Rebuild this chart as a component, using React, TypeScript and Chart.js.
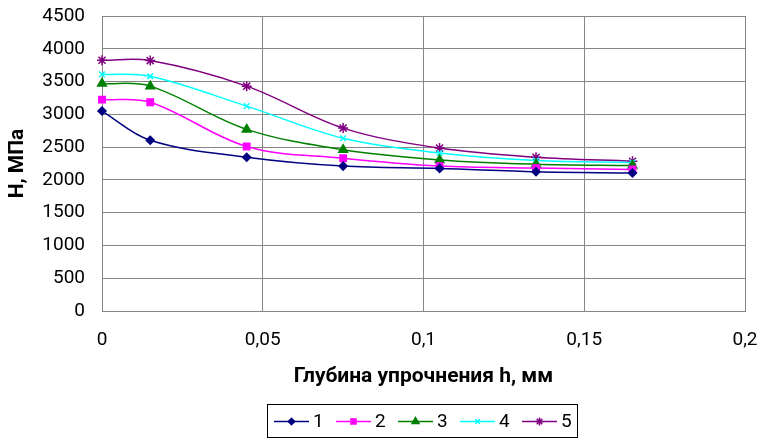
import React, { useEffect, useRef } from "react";
import { Chart, registerables } from "chart.js";
import { drawPoint } from "chart.js/helpers";

Chart.register(...registerables);

// Depth of hardening h, mm
const depths = [0, 0.015, 0.045, 0.075, 0.105, 0.135, 0.165];
// Hardness H, MPa
const series1 = [3050, 2605, 2345, 2210, 2175, 2125, 2105];
const series2 = [3225, 3185, 2510, 2330, 2210, 2180, 2160];
const series3 = [3470, 3430, 2770, 2460, 2305, 2240, 2220];
const series4 = [3610, 3580, 3125, 2635, 2410, 2295, 2265];
const series5 = [3825, 3820, 3430, 2790, 2485, 2345, 2285];
const seriesLabels = ["1", "2", "3", "4", "5"];
const xTicks = [0, 0.05, 0.1, 0.15, 0.2];
const yTicks = [0, 500, 1000, 1500, 2000, 2500, 3000, 3500, 4000, 4500];
const xTitle = "Глубина упрочнения h, мм";
const yTitle = "H, МПа";

const colors = ["#000080", "#FF00FF", "#008000", "#00FFFF", "#800080"];
const pointStyles = ["rectRot", "rect", "triangle", "crossRot", "star"];
const pointRadii = [4, 4.5, 5, 4, 5];

const FONT = "Roboto, 'Noto Sans', Arial, sans-serif";

const legendPlugin = {
  id: "excelLegend",
  afterDraw(chart: any) {
    const ctx = chart.ctx as CanvasRenderingContext2D;
    const area = chart.chartArea;
    const itemW = 62;
    const lineLen = 35;
    const boxW = 310;
    const boxH = 33;
    const cx = (area.left + area.right) / 2;
    const x0 = Math.floor(cx - boxW / 2) - 1;
    const y0 = chart.height - 34;
    ctx.save();
    ctx.strokeStyle = "#000";
    ctx.lineWidth = 1;
    ctx.strokeRect(x0 + 0.5, y0 + 0.5, boxW, boxH);
    chart.data.datasets.forEach((ds: any, i: number) => {
      const lx = x0 + 7 + i * itemW;
      const cy = y0 + boxH / 2 + 1;
      ctx.strokeStyle = ds.borderColor;
      ctx.lineWidth = 1.5;
      ctx.beginPath();
      ctx.moveTo(lx, cy);
      ctx.lineTo(lx + lineLen, cy);
      ctx.stroke();
      ctx.fillStyle = ds.pointBackgroundColor;
      ctx.strokeStyle = ds.pointBorderColor;
      ctx.lineWidth = 1.5;
      drawPoint(
        ctx,
        { pointStyle: ds.pointStyle, radius: ds.pointRadius * 0.8, borderWidth: 1.5, rotation: 0 } as any,
        lx + lineLen / 2,
        cy
      );
      ctx.fillStyle = "#000";
      ctx.font = `19px ${FONT}`;
      ctx.textBaseline = "middle";
      ctx.textAlign = "left";
      ctx.fillText(ds.label, lx + lineLen + 4, cy + 1);
    });
    ctx.restore();
  },
};

export default function App() {
  const canvasRef = useRef<HTMLCanvasElement | null>(null);

  useEffect(() => {
    if (!canvasRef.current) return;
    const all = [series1, series2, series3, series4, series5];
    const chart = new Chart(canvasRef.current, {
      type: "line",
      data: {
        datasets: all.map((s, i) => ({
          label: seriesLabels[i],
          data: depths.map((d, j) => ({ x: d, y: s[j] })),
          borderColor: colors[i],
          backgroundColor: colors[i],
          pointBackgroundColor: colors[i],
          pointBorderColor: colors[i],
          pointStyle: pointStyles[i],
          pointRadius: pointRadii[i],
          pointBorderWidth: 1.5,
          borderWidth: 1.5,
          tension: 0.35,
          fill: false,
          clip: false as any,
        })),
      },
      options: {
        animation: false,
        responsive: true,
        maintainAspectRatio: false,
        layout: { padding: { left: 0, top: 16, right: 20, bottom: 47 } },
        plugins: {
          legend: { display: false },
          tooltip: { enabled: false },
        },
        scales: {
          x: {
            type: "linear",
            min: 0,
            max: 0.2,
            afterBuildTicks: (scale: any) => {
              scale.ticks = xTicks.map((v) => ({ value: v }));
            },
            afterFit: (scale: any) => {
              scale.height = 80;
              scale.paddingLeft = 0;
              scale.paddingRight = 0;
            },
            grid: { color: "#858585", drawTicks: false, lineWidth: 1 },
            border: { color: "#858585", width: 1 },
            ticks: {
              padding: 18,
              color: "#000",
              font: { family: FONT, size: 19 },
              maxRotation: 0,
              callback: (v: any) => String(Math.round(Number(v) * 1000) / 1000).replace(".", ","),
            },
            title: {
              display: true,
              text: xTitle,
              color: "#000",
              font: { family: FONT, size: 21, weight: "bold" },
              padding: { top: 0, bottom: 2 },
            },
          },
          y: {
            type: "linear",
            min: 0,
            max: 4500,
            afterBuildTicks: (scale: any) => {
              scale.ticks = yTicks.map((v) => ({ value: v }));
            },
            afterFit: (scale: any) => {
              scale.width = 102;
              scale.paddingTop = 0;
              scale.paddingBottom = 0;
            },
            grid: { color: "#858585", drawTicks: false, lineWidth: 1 },
            border: { color: "#858585", width: 1 },
            ticks: {
              padding: 17,
              color: "#000",
              font: { family: FONT, size: 19 },
              callback: (v: any) => String(v),
            },
            title: {
              display: true,
              text: yTitle,
              color: "#000",
              font: { family: FONT, size: 21, weight: "bold" },
              padding: { top: 5, bottom: 0 },
            },
          },
        },
      },
      plugins: [legendPlugin],
    } as any);
    return () => chart.destroy();
  }, []);

  return (
    <div style={{ position: "fixed", left: 0, top: 0, width: 765, height: 438, background: "#fff" }}>
      <canvas ref={canvasRef} />
    </div>
  );
}
